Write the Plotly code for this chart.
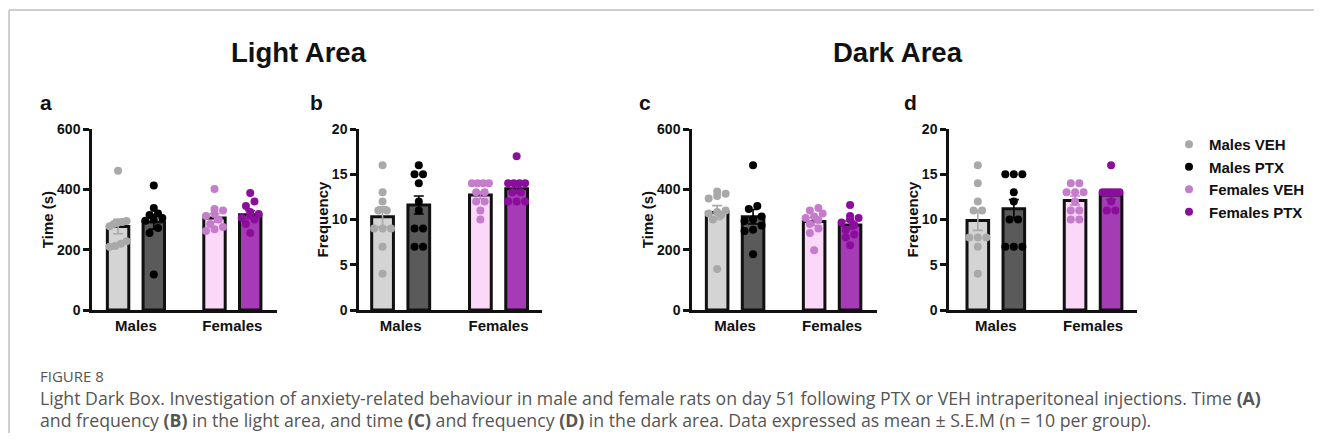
import plotly.graph_objects as go

# The page body has an 8px margin, so the figure is drawn 8px in from the window edge.
OFF = 8
W, H = 1322 - OFF, 441 - 2 * OFF

# ---------------- data ----------------
groups = ["Males VEH", "Males PTX", "Females VEH", "Females PTX"]
categories = ["Males", "Females"]

light_time_points = [
    [462, 295, 292, 290, 285, 278, 228, 220, 212, 210],
    [413, 338, 320, 315, 305, 300, 296, 272, 255, 118],
    [401, 335, 330, 318, 312, 300, 285, 275, 268, 262],
    [388, 360, 345, 325, 318, 315, 305, 300, 285, 255],
]
light_time_mean = [277, 292, 305, 316]
light_time_sem = [24, 24, 14, 13]

light_freq_points = [
    [16, 13, 12, 11, 11, 9, 9, 9, 7, 4],
    [16, 15, 15, 14, 12, 11, 9, 9, 7, 7],
    [14, 14, 14, 14, 13, 13, 12, 12, 11, 10],
    [17, 14, 14, 14, 14, 13, 13, 12, 12, 12],
]
light_freq_mean = [10.3, 11.6, 12.7, 13.4]
light_freq_sem = [1.1, 1.0, 0.4, 0.5]

dark_time_points = [
    [393, 385, 378, 370, 330, 325, 320, 315, 300, 136],
    [480, 345, 335, 310, 300, 295, 280, 266, 262, 185],
    [338, 330, 320, 310, 305, 298, 285, 270, 255, 198],
    [348, 312, 305, 300, 290, 282, 265, 250, 240, 215],
]
dark_time_mean = [323, 309, 293, 282]
dark_time_sem = [23, 24, 13, 13]

dark_freq_points = [
    [16, 14, 12, 11, 11, 8, 8, 8, 7, 4],
    [15, 15, 15, 13, 12, 10, 10, 7, 7, 7],
    [14, 14, 13, 13, 13, 12, 11, 11, 10, 10],
    [16, 13, 13, 13, 13, 13, 13, 12, 11, 11],
]
dark_freq_mean = [9.9, 11.2, 12.1, 12.7]
dark_freq_sem = [1.1, 1.0, 0.5, 0.5]

time_ticks = [0, 200, 400, 600]
freq_ticks = [0, 5, 10, 15, 20]

# ---------------- styles ----------------
bar_colors = ["#d4d4d4", "#5a5a5a", "#fbd7f8", "#a63bb6"]
point_colors = ["#a9a9a9", "#000000", "#c47ccb", "#8b0d9c"]
positions = [0, 1, 2.7, 3.7]
cat_positions = [0.5, 3.2]
FONT = "Liberation Sans, Arial, sans-serif"
CAP_FONT = "Open Sans, sans-serif"

panels = [
    dict(letter="a", lx=46, pts=light_time_points, mean=light_time_mean, sem=light_time_sem,
         ymax=600, ticks=time_ticks, title="Time (s)", dom=(92, 277), xr=(-0.73, 4.45)),
    dict(letter="b", lx=316, pts=light_freq_points, mean=light_freq_mean, sem=light_freq_sem,
         ymax=20, ticks=freq_ticks, title="Frequency", dom=(359, 542), xr=(-0.65, 4.40)),
    dict(letter="c", lx=645, pts=dark_time_points, mean=dark_time_mean, sem=dark_time_sem,
         ymax=600, ticks=time_ticks, title="Time (s)", dom=(692, 877), xr=(-0.70, 4.45)),
    dict(letter="d", lx=910, pts=dark_freq_points, mean=dark_freq_mean, sem=dark_freq_sem,
         ymax=20, ticks=freq_ticks, title="Frequency", dom=(949, 1137), xr=(-0.80, 4.42)),
]

Y_TOP, Y_BOT = 129, 310


def px(x):
    return (x - OFF) / W


def py(y):
    return 1 - (y - OFF) / H


def spread(vals, ymax, xscale, diam=8.5, max_span=17.0):
    """Horizontal offsets (axis units) so that near-equal points sit side by side,
    kept within roughly the bar width."""
    ypx = (Y_BOT - Y_TOP) / ymax
    order = sorted(range(len(vals)), key=lambda i: vals[i])
    offs = [0.0] * len(vals)
    clusters = []
    for i in order:
        if clusters and (vals[i] - vals[clusters[-1][0]]) * ypx < 5.5:
            clusters[-1].append(i)
        else:
            clusters.append([i])
    for c in clusters:
        n = len(c)
        step = diam if n < 2 else min(diam, max_span / (n - 1))
        for k, i in enumerate(c):
            offs[i] = (k - (n - 1) / 2) * step / xscale
    return offs


def note(text, x, y, size, color="#111111", family=FONT, xanchor="center", bold=True):
    return dict(text=text, x=px(x), y=py(y), xref="paper", yref="paper",
                xanchor=xanchor, yanchor="middle", showarrow=False,
                font=dict(family=family, size=size, color=color,
                          weight="bold" if bold else "normal"))


fig = go.Figure()
layout = {}
annotations = []

for pi, p in enumerate(panels):
    sfx = "" if pi == 0 else str(pi + 1)
    xa, ya = "x" + sfx, "y" + sfx
    xscale = (p["dom"][1] - p["dom"][0]) / (p["xr"][1] - p["xr"][0])
    for gi, g in enumerate(groups):
        fig.add_trace(go.Bar(
            x=[positions[gi]], y=[p["mean"][gi]], width=0.6,
            marker=dict(color=bar_colors[gi], line=dict(color="#111111", width=3)),
            error_y=dict(type="data", array=[p["sem"][gi]], color=point_colors[gi],
                         thickness=1.6, width=5),
            xaxis=xa, yaxis=ya, showlegend=False, name=g, hoverinfo="skip"))
    for gi, g in enumerate(groups):
        offs = spread(p["pts"][gi], p["ymax"], xscale)
        fig.add_trace(go.Scatter(
            x=[positions[gi] + o for o in offs], y=p["pts"][gi], mode="markers",
            marker=dict(color=point_colors[gi], size=8),
            xaxis=xa, yaxis=ya, name=g, showlegend=(pi == 0), legendgroup=g))
    layout["xaxis" + sfx] = dict(
        domain=[px(p["dom"][0]), px(p["dom"][1])], range=list(p["xr"]),
        anchor=ya, showline=True, linecolor="#111111", linewidth=2.5, automargin=False,
        tickvals=cat_positions, ticktext=categories, ticks="", showgrid=False,
        zeroline=False, tickfont=dict(family=FONT, size=15, color="#111111", weight="bold"),
        fixedrange=True)
    layout["yaxis" + sfx] = dict(
        domain=[py(Y_BOT), py(Y_TOP)], range=[0, p["ymax"]], anchor=xa, automargin=False,
        showline=True, linecolor="#111111", linewidth=2.5, ticks="outside",
        ticklen=6, tickwidth=2.5, tickcolor="#111111", tickvals=p["ticks"],
        showgrid=False, zeroline=False,
        tickfont=dict(family=FONT, size=14, color="#111111", weight="bold"),
        title=dict(text=p["title"], standoff=0,
                   font=dict(family=FONT, size=15, color="#111111", weight="bold")),
        fixedrange=True)
    annotations.append(note(p["letter"], p["lx"], 103, 21))

annotations += [
    note("Light Area", 299, 53, 27.5),
    note("Dark Area", 898, 53, 27.5),
    note("FIGURE 8", 38, 376, 15, color="#555555", family=CAP_FONT, xanchor="left", bold=False),
    note("Light Dark Box. Investigation of anxiety-related behaviour in male and female rats "
         "on day 51 following PTX or VEH intraperitoneal injections. Time <b>(A)</b>",
         38, 398, 17.7, color="#555555", family=CAP_FONT, xanchor="left", bold=False),
    note("and frequency <b>(B)</b> in the light area, and time <b>(C)</b> and frequency "
         "<b>(D)</b> in the dark area. Data expressed as mean ± S.E.M (n = 10 per group).",
         38, 420, 17.7, color="#555555", family=CAP_FONT, xanchor="left", bold=False),
]

shapes = [
    dict(type="line", xref="paper", yref="paper", x0=px(9), x1=1, y0=py(10), y1=py(10),
         line=dict(color="#cfcfcf", width=2)),
    dict(type="line", xref="paper", yref="paper", x0=px(9), x1=px(9), y0=py(10), y1=0,
         line=dict(color="#cfcfcf", width=2)),
]

fig.update_layout(
    width=W, height=H, margin=dict(l=0, r=0, t=0, b=0, autoexpand=False),
    paper_bgcolor="white", plot_bgcolor="white", barmode="overlay",
    font=dict(family=FONT, color="#111111"),
    annotations=annotations, shapes=shapes,
    legend=dict(x=px(1169), y=py(128), xanchor="left", yanchor="top",
                bgcolor="rgba(0,0,0,0)", tracegroupgap=0, itemsizing="trace",
                font=dict(family=FONT, size=15, color="#111111", weight="bold")),
    showlegend=True,
)
fig.update_layout(**layout)

fig.write_html("out.html")
